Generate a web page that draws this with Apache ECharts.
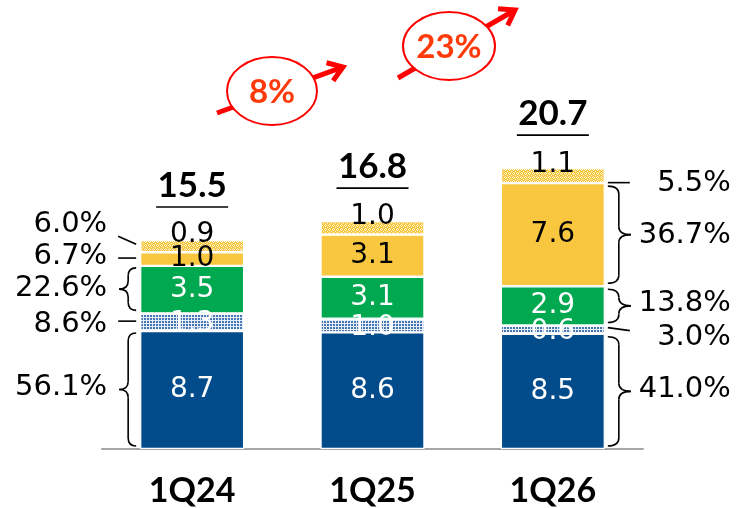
<!DOCTYPE html>
<html><head><meta charset="utf-8">
<script src="https://cdn.jsdelivr.net/npm/echarts@6/dist/echarts.min.js"></script>
<style>html,body{margin:0;padding:0;background:#fff}#c{width:737px;height:508px}</style>
</head><body><div id="c"></div>
<script>
// ---- data ----
const categories = ['1Q24', '1Q25', '1Q26'];
const coreBlue = [8.7, 8.6, 8.5];
const hatchBlue = [1.3, 1.0, 0.6];
const green = [3.5, 3.1, 2.9];
const yellow = [1.0, 3.1, 7.6];
const hatchYellow = [0.9, 1.0, 1.1];
const totals = ['15.5', '16.8', '20.7'];
const sharesFirst = ['56.1%', '8.6%', '22.6%', '6.7%', '6.0%'];
const sharesLast = ['41.0%', '3.0%', '13.8%', '36.7%', '5.5%'];
const growth = ['8%', '23%'];

// ---- styles / layout ----
const segs = [coreBlue, hatchBlue, green, yellow, hatchYellow];
function pattern(w, h, bg, fg, pix) {
  const c = document.createElement('canvas'); c.width = w; c.height = h;
  const g = c.getContext('2d'); g.fillStyle = bg; g.fillRect(0, 0, w, h);
  g.fillStyle = fg; pix.forEach(p => g.fillRect(p[0], p[1], p[2] || 1, p[3] || 1));
  return { image: c, repeat: 'repeat' };
}
const blueHatch = pattern(3, 3, '#E6EEF7', '#4675B3', [[0, 0, 2, 2]]);
const yellowHatch = pattern(4, 4, '#F9C843', '#FFF3D0', [[1, 0], [0, 1], [2, 1], [1, 2], [3, 3]]);
const segColors = ['#034C8C', blueHatch, '#00A84F', '#F9C73F', yellowHatch];
const labelColors = ['#fff', '#fff', '#fff', '#000', '#000'];
const labelOffsets = [[0, 0], [0, 2], [0, 0], [0, 0], [0, -11]];
const BAR_W = 104;
// annotation layout: kind, label dy, near-end dy, far-end dy
const leftMarks = [['brace', -3], ['dash', 2, -1, -1], ['brace', -1], ['dash', -3, -1, -1], ['dash', -22, -2, -10]];
const rightMarks = [['brace', -2], ['dash', 8, -2, 1], ['brace', -2], ['brace', 1], ['dash', 8, 7, 7]];

const barSeries = segs.map((arr, i) => ({
  type: 'bar', stack: 'a', barWidth: BAR_W, data: arr,
  itemStyle: { color: segColors[i], borderColor: '#fff', borderWidth: 1.2 },
  label: { show: true, position: 'inside', color: labelColors[i], fontSize: 28, fontFamily: 'DejaVu Sans',
    offset: labelOffsets[i], formatter: p => p.value.toFixed(1) },
  silent: true, z: 2
}));

const sums = categories.map((_, j) => segs.reduce((s, a) => s + a[j], 0));

// annotation data
const annData = [];
[[0, sharesFirst, leftMarks, -1], [2, sharesLast, rightMarks, 1]].forEach(([cat, texts, marks, side]) => {
  let start = 0;
  segs.forEach((arr, s) => {
    const end = start + arr[cat];
    annData.push({ value: [cat, start, end], text: texts[s], mark: marks[s], side: side });
    start = end;
  });
});

function braceEls(xE, xS, xT, yT, yB) {
  const ym = (yT + yB) / 2, r = Math.min(8, (yB - yT) / 4);
  const st = { stroke: '#000', lineWidth: 1.6, fill: null };
  const q = (x1, y1, cx, cy, x2, y2) => ({ type: 'bezierCurve', shape: { x1, y1, x2, y2, cpx1: cx, cpy1: cy }, style: st });
  const l = (x1, y1, x2, y2) => ({ type: 'line', shape: { x1, y1, x2, y2 }, style: st });
  return [
    q(xE, yT, xS, yT, xS, yT + r), l(xS, yT + r, xS, ym - r), q(xS, ym - r, xS, ym, xT, ym),
    q(xT, ym, xS, ym, xS, ym + r), l(xS, ym + r, xS, yB - r), q(xS, yB - r, xS, yB, xE, yB)
  ];
}

const annSeries = {
  type: 'custom', silent: true, z: 5,
  data: annData.map(d => d.value),
  renderItem: (params, api) => {
    const d = annData[params.dataIndex];
    const top = api.coord([api.value(0), api.value(2)]);
    const bot = api.coord([api.value(0), api.value(1)]);
    const cx = top[0], yT = top[1], yB = bot[1], ym = (yT + yB) / 2;
    const side = d.side, half = BAR_W / 2;
    const children = [];
    const m = d.mark;
    const textX = side < 0 ? cx - half - 33 : cx + half + 126;
    if (m[0] === 'brace') {
      if (side < 0) children.push(...braceEls(cx - half - 4, cx - half - 12, cx - half - 21, yT + 2, yB - 3));
      else children.push(...braceEls(cx + half + 3, cx + half + 14, cx + half + 26, yT + 3, yB - 3));
    } else {
      const st = { stroke: '#000', lineWidth: 1.6 };
      if (side < 0) children.push({ type: 'line', shape: { x1: cx - half - 4, y1: ym + m[2], x2: cx - half - 22, y2: ym + m[3] }, style: st });
      else children.push({ type: 'line', shape: { x1: cx + half + 3, y1: ym + m[2], x2: cx + half + 25, y2: ym + m[3] }, style: st });
    }
    children.push({ type: 'text', style: { text: d.text, x: textX, y: ym + m[1], align: 'right', verticalAlign: 'middle',
      fontSize: 29, fontFamily: 'DejaVu Sans', fill: '#000' } });
    return { type: 'group', children };
  }
};

const totalSeries = {
  type: 'custom', silent: true, z: 5,
  data: sums.map((s, i) => [i, s]),
  renderItem: (params, api) => {
    const p = api.coord([api.value(0), api.value(1)]);
    return { type: 'group', children: [
      { type: 'text', style: { text: totals[params.dataIndex], x: p[0], y: p[1] - 54, align: 'center', verticalAlign: 'middle',
        fontSize: 35, fontWeight: 'bold', fontFamily: 'Lato', fill: '#000' } },
      { type: 'line', shape: { x1: p[0] - 36, y1: p[1] - 33, x2: p[0] + 36, y2: p[1] - 33 }, style: { stroke: '#000', lineWidth: 1.6 } }
    ] };
  }
};

// growth call-outs (decorative)
function arrow(x1, y1, x2, y2) {
  const dx = x2 - x1, dy = y2 - y1, L = Math.hypot(dx, dy), ux = dx / L, uy = dy / L;
  const b = 17, a = 0.6;
  const rot = (ang) => [x2 - b * (ux * Math.cos(ang) - uy * Math.sin(ang)), y2 - b * (ux * Math.sin(ang) + uy * Math.cos(ang))];
  return [
    { type: 'line', shape: { x1, y1, x2: x2 - ux * 2, y2: y2 - uy * 2 }, style: { stroke: '#FF0000', lineWidth: 5 }, z: 10 },
    { type: 'polyline', shape: { points: [rot(a), [x2, y2], rot(-a)] }, style: { stroke: '#FF0000', lineWidth: 5, fill: null, lineJoin: 'miter' }, z: 10 }
  ];
}
function callout(cx, cy, rx, ry, txt) {
  return [
    { type: 'ellipse', shape: { cx, cy, rx, ry }, style: { fill: '#fff', stroke: '#FF0000', lineWidth: 2 }, z: 11 },
    { type: 'text', style: { text: txt, x: cx, y: cy + 1, align: 'center', verticalAlign: 'middle',
      fontSize: 33, fontWeight: 'bold', fontFamily: 'Lato', fill: '#FF3A0A' }, z: 12 }
  ];
}

const chart = echarts.init(document.getElementById('c'), null, { renderer: 'canvas' });
chart.setOption({
  animation: false,
  backgroundColor: '#fff',
  grid: { left: 102, right: 94, top: 42, bottom: 58 },
  xAxis: {
    type: 'category', data: categories,
    axisLine: { lineStyle: { color: '#A6A6A6', width: 2 } },
    axisTick: { show: false },
    axisLabel: { fontSize: 34, fontWeight: 'bold', fontFamily: 'Lato', color: '#000', margin: 25, lineHeight: 34 }
  },
  yAxis: { type: 'value', min: 0, max: 30, show: false, splitLine: { show: false } },
  series: [...barSeries, annSeries, totalSeries],
  graphic: [
    ...arrow(217, 113, 343, 67), ...callout(272, 91, 45, 34, growth[0]),
    ...arrow(398, 78, 515, 10), ...callout(449, 46, 46, 34, growth[1])
  ]
});
</script></body></html>
